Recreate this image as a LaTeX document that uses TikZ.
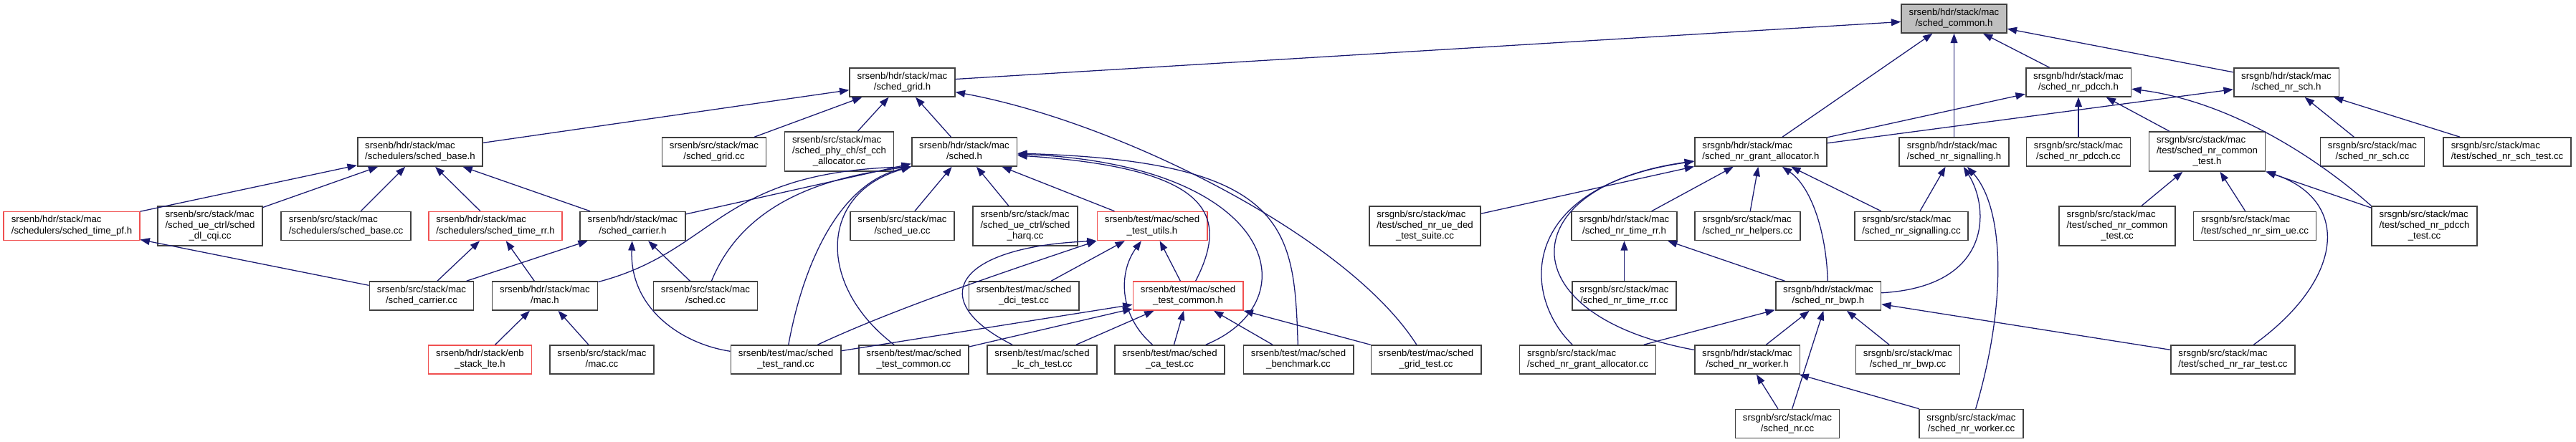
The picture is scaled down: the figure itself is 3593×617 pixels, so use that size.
\documentclass[tikz,border=0pt]{standalone}
\usepackage{fontspec}
\setmainfont{Liberation Sans}
\usetikzlibrary{arrows.meta}
\definecolor{edgeblue}{HTML}{191970}
\definecolor{truncred}{HTML}{F05050}
\definecolor{boxgray}{HTML}{404040}
\newcommand{\fnameii}[2]{\begin{tabular}{@{}l@{}}#1\\\multicolumn{1}{@{}c@{}}{#2}\end{tabular}}
\newcommand{\fnameiii}[3]{\begin{tabular}{@{}l@{}}#1\\#2\\\multicolumn{1}{@{}c@{}}{#3}\end{tabular}}
\tikzset{
  incfile/.style={draw=boxgray,line width=1.2pt,fill=white,inner xsep=7.5pt,inner ysep=3.5pt,font=\fontsize{9.4}{10.67}\selectfont},
  truncfile/.style={incfile,draw=truncred},
  rootfile/.style={incfile,fill=black!25},
  incl/.style={edgeblue,line width=0.9pt,-{Triangle[length=9.5pt,width=7pt]}}
}

\begin{document}
\begin{tikzpicture}[x=0.025cm,y=-0.025cm]
    \useasboundingbox (0,0) rectangle (3593,617);

    \node[rootfile] (COMMON) at (2725.5,26) {\fnameii{srsenb/hdr/stack/mac}{/sched\_common.h}};

    \node[incfile] (GRIDH) at (1258.5,115) {\fnameii{srsenb/hdr/stack/mac}{/sched\_grid.h}};
    \node[incfile] (NRPDCCHH) at (2899,115) {\fnameii{srsgnb/hdr/stack/mac}{/sched\_nr\_pdcch.h}};
    \node[incfile] (NRSCHH) at (3189,115) {\fnameii{srsgnb/hdr/stack/mac}{/sched\_nr\_sch.h}};

    \node[incfile] (BASEH) at (586,212) {\fnameii{srsenb/hdr/stack/mac}{/schedulers/sched\_base.h}};
    \node[incfile] (GRIDCC) at (996,212) {\fnameii{srsenb/src/stack/mac}{/sched\_grid.cc}};
    \node[incfile] (SFCCH) at (1170.5,211.5) {\fnameiii{srsenb/src/stack/mac}{/sched\_phy\_ch/sf\_cch}{\_allocator.cc}};
    \node[incfile] (SCHEDH) at (1345,212) {\fnameii{srsenb/hdr/stack/mac}{/sched.h}};
    \node[incfile] (NRGRANTH) at (2456,212) {\fnameii{srsgnb/hdr/stack/mac}{/sched\_nr\_grant\_allocator.h}};
    \node[incfile] (NRSIGH) at (2725.5,212) {\fnameii{srsgnb/hdr/stack/mac}{/sched\_nr\_signalling.h}};
    \node[incfile] (NRPDCCHCC) at (2899,212) {\fnameii{srsgnb/src/stack/mac}{/sched\_nr\_pdcch.cc}};
    \node[incfile] (NRCTESTH) at (3078.5,211.5) {\fnameiii{srsgnb/src/stack/mac}{/test/sched\_nr\_common}{\_test.h}};
    \node[incfile] (NRSCHCC) at (3309,212) {\fnameii{srsgnb/src/stack/mac}{/sched\_nr\_sch.cc}};
    \node[incfile] (NRSCHTEST) at (3497,212) {\fnameii{srsgnb/src/stack/mac}{/test/sched\_nr\_sch\_test.cc}};

    \node[truncfile] (TIMEPFH) at (100,315.5) {\fnameii{srsenb/hdr/stack/mac}{/schedulers/sched\_time\_pf.h}};
    \node[incfile] (DLCQI) at (293,315.5) {\fnameiii{srsenb/src/stack/mac}{/sched\_ue\_ctrl/sched}{\_dl\_cqi.cc}};
    \node[incfile] (BASECC) at (482.5,315.5) {\fnameii{srsenb/src/stack/mac}{/schedulers/sched\_base.cc}};
    \node[truncfile] (TIMERRH) at (691,315.5) {\fnameii{srsenb/hdr/stack/mac}{/schedulers/sched\_time\_rr.h}};
    \node[incfile] (CARRIERH) at (882.5,315.5) {\fnameii{srsenb/hdr/stack/mac}{/sched\_carrier.h}};
    \node[incfile] (UECC) at (1258.5,315.5) {\fnameii{srsenb/src/stack/mac}{/sched\_ue.cc}};
    \node[incfile] (HARQ) at (1430,315.5) {\fnameiii{srsenb/src/stack/mac}{/sched\_ue\_ctrl/sched}{\_harq.cc}};
    \node[truncfile] (TUTILSH) at (1607,315.5) {\fnameii{srsenb/test/mac/sched}{\_test\_utils.h}};
    \node[incfile] (NRUDED) at (1987.5,315.5) {\fnameiii{srsgnb/src/stack/mac}{/test/sched\_nr\_ue\_ded}{\_test\_suite.cc}};
    \node[incfile] (NRTIMERRH) at (2265.5,315.5) {\fnameii{srsgnb/hdr/stack/mac}{/sched\_nr\_time\_rr.h}};
    \node[incfile] (NRHELP) at (2437.5,315.5) {\fnameii{srsgnb/src/stack/mac}{/sched\_nr\_helpers.cc}};
    \node[incfile] (NRSIGCC) at (2666,315.5) {\fnameii{srsgnb/src/stack/mac}{/sched\_nr\_signalling.cc}};
    \node[incfile] (NRCTESTCC) at (2953,315.5) {\fnameiii{srsgnb/src/stack/mac}{/test/sched\_nr\_common}{\_test.cc}};
    \node[incfile] (NRSIMUE) at (3145,315.5) {\fnameii{srsgnb/src/stack/mac}{/test/sched\_nr\_sim\_ue.cc}};
    \node[incfile] (NRPDCCHTEST) at (3381.5,315.5) {\fnameiii{srsgnb/src/stack/mac}{/test/sched\_nr\_pdcch}{\_test.cc}};

    \node[incfile] (CARRIERCC) at (588,413) {\fnameii{srsenb/src/stack/mac}{/sched\_carrier.cc}};
    \node[incfile] (MACH) at (760,413) {\fnameii{srsenb/hdr/stack/mac}{/mac.h}};
    \node[incfile] (SCHEDCC) at (984,413) {\fnameii{srsenb/src/stack/mac}{/sched.cc}};
    \node[incfile] (DCITEST) at (1428,413) {\fnameii{srsenb/test/mac/sched}{\_dci\_test.cc}};
    \node[truncfile] (TCOMMONH) at (1657,413) {\fnameii{srsenb/test/mac/sched}{\_test\_common.h}};
    \node[incfile] (NRTIMERRCC) at (2265.5,413) {\fnameii{srsgnb/src/stack/mac}{/sched\_nr\_time\_rr.cc}};
    \node[incfile] (NRBWPH) at (2550,413) {\fnameii{srsgnb/hdr/stack/mac}{/sched\_nr\_bwp.h}};

    \node[truncfile] (ENBSTACK) at (669.5,502) {\fnameii{srsenb/hdr/stack/enb}{\_stack\_lte.h}};
    \node[incfile] (MACCC) at (839.5,502) {\fnameii{srsenb/src/stack/mac}{/mac.cc}};
    \node[incfile] (TRAND) at (1096,502) {\fnameii{srsenb/test/mac/sched}{\_test\_rand.cc}};
    \node[incfile] (TCOMMONCC) at (1274.5,502) {\fnameii{srsenb/test/mac/sched}{\_test\_common.cc}};
    \node[incfile] (LCCH) at (1453.5,502) {\fnameii{srsenb/test/mac/sched}{\_lc\_ch\_test.cc}};
    \node[incfile] (CATEST) at (1631.5,502) {\fnameii{srsenb/test/mac/sched}{\_ca\_test.cc}};
    \node[incfile] (BENCH) at (1811,502) {\fnameii{srsenb/test/mac/sched}{\_benchmark.cc}};
    \node[incfile] (GRIDTEST) at (1989,502) {\fnameii{srsenb/test/mac/sched}{\_grid\_test.cc}};
    \node[incfile] (NRGRANTCC) at (2214.5,502) {\fnameii{srsgnb/src/stack/mac}{/sched\_nr\_grant\_allocator.cc}};
    \node[incfile] (NRWORKERH) at (2437,502) {\fnameii{srsgnb/hdr/stack/mac}{/sched\_nr\_worker.h}};
    \node[incfile] (NRBWPCC) at (2661,502) {\fnameii{srsgnb/src/stack/mac}{/sched\_nr\_bwp.cc}};
    \node[incfile] (NRRAR) at (3114.5,502) {\fnameii{srsgnb/src/stack/mac}{/test/sched\_nr\_rar\_test.cc}};

    \node[incfile] (NRCC) at (2493,591.5) {\fnameii{srsgnb/src/stack/mac}{/sched\_nr.cc}};
    \node[incfile] (NRWORKERCC) at (2749.5,591.5) {\fnameii{srsgnb/src/stack/mac}{/sched\_nr\_worker.cc}};

    \draw[incl] (GRIDH) -- (COMMON);
    \draw[incl] (NRGRANTH) -- (COMMON);
    \draw[incl] (NRSIGH) -- (COMMON);
    \draw[incl] (NRPDCCHH) -- (COMMON);
    \draw[incl] (NRSCHH) -- (COMMON);

    \draw[incl] (BASEH) -- (GRIDH);
    \draw[incl] (GRIDCC) -- (GRIDH);
    \draw[incl] (SFCCH) -- (GRIDH);
    \draw[incl] (SCHEDH) -- (GRIDH);
    \draw[incl] (GRIDTEST) .. controls (1880,330) and (1560,170) .. (GRIDH);

    \draw[incl] (TIMEPFH) -- (BASEH);
    \draw[incl] (DLCQI) -- (BASEH);
    \draw[incl] (BASECC) -- (BASEH);
    \draw[incl] (TIMERRH) -- (BASEH);
    \draw[incl] (CARRIERH) -- (BASEH);

    \draw[incl] (CARRIERCC) -- (TIMEPFH);
    \draw[incl] (CARRIERCC) -- (TIMERRH);
    \draw[incl] (MACH) -- (TIMERRH);
    \draw[incl] (CARRIERCC) -- (CARRIERH);
    \draw[incl] (SCHEDCC) -- (CARRIERH);
    \draw[incl] (TRAND) .. controls (950,480) and (878,430) .. (CARRIERH);
    \draw[incl] (ENBSTACK) -- (MACH);
    \draw[incl] (MACCC) -- (MACH);

    \draw[incl] (CARRIERH) -- (SCHEDH);
    \draw[incl] (MACH) .. controls (1000,350) and (1000,240) .. (SCHEDH.south west);
    \draw[incl] (SCHEDCC) .. controls (1030,300) and (1120,250) .. (SCHEDH.south west);
    \draw[incl] (TRAND) .. controls (1120,370) and (1170,255) .. (SCHEDH.south west);
    \draw[incl] (TCOMMONCC) .. controls (1140,400) and (1140,270) .. (SCHEDH.south west);
    \draw[incl] (UECC) -- (SCHEDH);
    \draw[incl] (HARQ) -- (SCHEDH);
    \draw[incl] (TUTILSH) -- (SCHEDH);
    \draw[incl] (TCOMMONH) .. controls (1715,300) and (1690,235) .. (SCHEDH);
    \draw[incl] (CATEST) .. controls (1830,420) and (1780,230) .. (SCHEDH);
    \draw[incl] (BENCH) .. controls (1805,320) and (1800,225) .. (SCHEDH);

    \draw[incl] (TRAND) .. controls (1250,430) and (1400,380) .. (TUTILSH.south west);
    \draw[incl] (LCCH) .. controls (1290,420) and (1330,345) .. (TUTILSH.south west);
    \draw[incl] (DCITEST) -- (TUTILSH);
    \draw[incl] (CATEST) .. controls (1560,440) and (1560,380) .. (TUTILSH);
    \draw[incl] (TCOMMONH) -- (TUTILSH);

    \draw[incl] (TRAND) -- (TCOMMONH);
    \draw[incl] (TCOMMONCC) -- (TCOMMONH);
    \draw[incl] (LCCH) -- (TCOMMONH);
    \draw[incl] (CATEST) -- (TCOMMONH);
    \draw[incl] (BENCH) -- (TCOMMONH);
    \draw[incl] (GRIDTEST) -- (TCOMMONH);

    \draw[incl] (NRUDED) -- (NRGRANTH);
    \draw[incl] (NRGRANTCC) .. controls (2120,410) and (2120,260) .. (NRGRANTH);
    \draw[incl] (NRWORKERH) .. controls (2100,440) and (2110,260) .. (NRGRANTH);
    \draw[incl] (NRTIMERRH) -- (NRGRANTH);
    \draw[incl] (NRHELP) -- (NRGRANTH);
    \draw[incl] (NRBWPH) .. controls (2547,320) and (2525,260) .. (NRGRANTH);
    \draw[incl] (NRSIGCC) -- (NRGRANTH);
    \draw[incl] (NRGRANTH) -- (NRPDCCHH);
    \draw[incl] (NRGRANTH) -- (NRSCHH);

    \draw[incl] (NRPDCCHCC) -- (NRPDCCHH);
    \draw[incl] (NRCTESTH) -- (NRPDCCHH);
    \draw[incl] (NRPDCCHTEST.north west) .. controls (3220,210) and (3100,140) .. (NRPDCCHH);
    \draw[incl] (NRSCHCC) -- (NRSCHH);
    \draw[incl] (NRSCHTEST) -- (NRSCHH);

    \draw[incl] (NRSIGCC) -- (NRSIGH);
    \draw[incl] (NRBWPH) .. controls (2780,400) and (2775,290) .. (NRSIGH);
    \draw[incl] (NRWORKERCC) .. controls (2800,420) and (2795,290) .. (NRSIGH);

    \draw[incl] (NRCTESTCC) -- (NRCTESTH);
    \draw[incl] (NRSIMUE) -- (NRCTESTH);
    \draw[incl] (NRPDCCHTEST) -- (NRCTESTH);
    \draw[incl] (NRRAR) .. controls (3270,390) and (3280,280) .. (NRCTESTH);

    \draw[incl] (NRTIMERRCC) -- (NRTIMERRH);
    \draw[incl] (NRBWPH) -- (NRTIMERRH);
    \draw[incl] (NRGRANTCC) -- (NRBWPH);
    \draw[incl] (NRWORKERH) -- (NRBWPH);
    \draw[incl] (NRCC) -- (NRBWPH);
    \draw[incl] (NRBWPCC) -- (NRBWPH);
    \draw[incl] (NRRAR) -- (NRBWPH);
    \draw[incl] (NRCC) -- (NRWORKERH);
    \draw[incl] (NRWORKERCC) -- (NRWORKERH);
\end{tikzpicture}
\end{document}
